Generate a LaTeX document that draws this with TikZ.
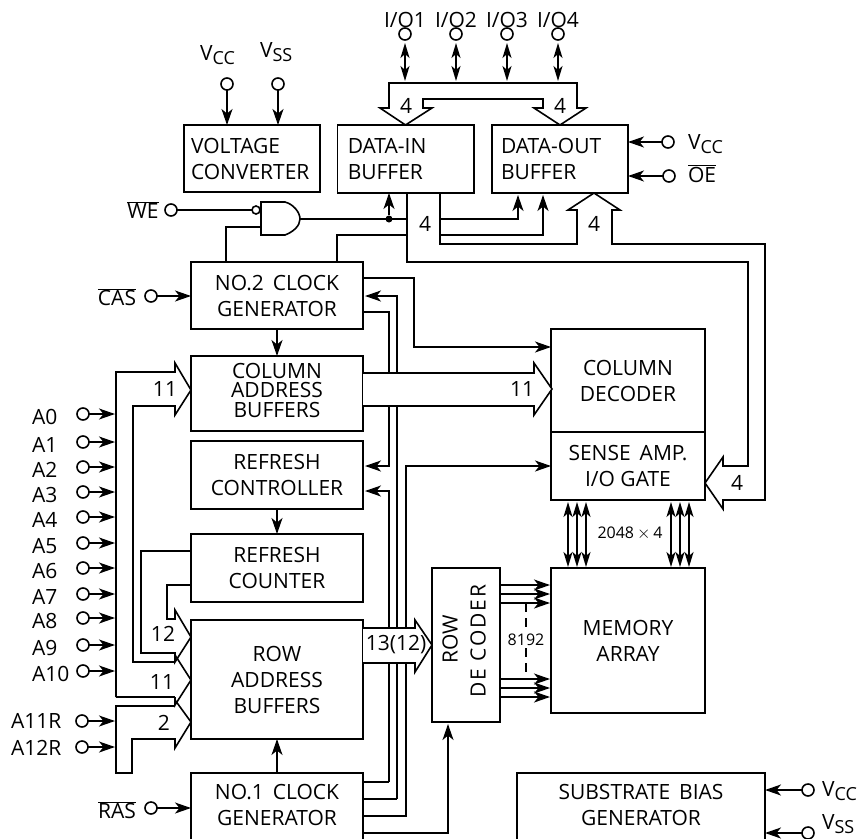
\documentclass[tikz,border=0pt]{standalone}
\usepackage{fontspec}
\setmainfont{Open Sans}
\usetikzlibrary{arrows.meta,calc}
\newcommand\fsA{\fontsize{21}{26}\selectfont}
\newcommand\vlab[1]{V\raisebox{-4pt}{\fontsize{18}{15}\selectfont #1}}
\newcommand\ovl[1]{$\overline{\mbox{#1}}$}
\newcommand\mybox[7]{\node[box,minimum width={#4-#2},minimum height={#5-#3},#6] (#1) at ({(#2+#4)/2},{(#3+#5)/2}) {#7};}
\tikzset{
 box/.style={draw=black,line width=1.6pt,fill=white,inner sep=0pt,outer sep=0pt,align=center,font=\fsA},
 pad/.style={circle,draw=black,line width=1.6pt,fill=white,minimum size=12pt,inner sep=0pt,outer sep=0pt},
 lbl/.style={inner sep=0pt,outer sep=0pt,font=\fsA},
 small/.style={inner sep=0pt,outer sep=0pt,font=\fontsize{16}{18}\selectfont},
 wire/.style={line width=1.6pt,line join=miter},
 arr/.style={wire,-{Stealth[length=16pt,width=11pt,inset=4.5pt]}},
 darr/.style={wire,{Stealth[length=15pt,width=9pt,inset=4pt]}-{Stealth[length=15pt,width=9pt,inset=4pt]}},
 bus/.style={line width=1.6pt,line join=miter,fill=white},
}
\begin{document}
\begin{tikzpicture}[x=1pt,y=-1pt]
\useasboundingbox (0,0) rectangle (861,838);
\clip (0,0) rectangle (861,838);
% boxes
\mybox{vc}{184}{125}{320}{192}{text width=122pt,align=left}{VOLTAGE\\CONVERTER}
\mybox{din}{337.5}{125}{474}{193}{text width=116pt,align=left}{DATA-IN\\BUFFER}
\mybox{dout}{492}{125}{628}{193}{text width=118pt,align=left}{DATA-OUT\\BUFFER}
\mybox{clk2}{191}{262}{363}{329}{}{NO.2\, CLOCK\\GENERATOR}
\mybox{cab}{191}{356}{363}{431}{}{}
\node[lbl,align=center,font=\fontsize{21}{19.5}\selectfont] (cabt) at (277,390) {COLUMN\\ADDRESS\\BUFFERS};
\mybox{rc}{191}{441}{363}{509}{}{REFRESH\\CONTROLLER}
\mybox{rcnt}{191}{534}{363}{602}{}{REFRESH\\COUNTER}
\mybox{rab}{191}{620}{363}{739}{}{ROW\\ADDRESS\\BUFFERS}
\mybox{clk1}{191}{773}{363}{850}{}{}
\node[lbl,align=center] (clk1t) at (277,805) {NO.1\, CLOCK\\GENERATOR};
\mybox{cd}{551}{329}{705}{432}{}{COLUMN\\DECODER}
\mybox{sa}{551}{432}{705}{500}{}{SENSE\, AMP.\\I/O GATE}
\mybox{ma}{551}{568}{705}{713}{}{MEMORY\\ARRAY}
\mybox{rd}{432}{568}{500}{722}{}{}
\node[lbl,rotate=90] (rdA) at (450,639) {ROW};
\node[lbl,rotate=90] (rdB) at (478,641) {\addfontfeature{LetterSpace=9}DE CODER};
\mybox{sb}{517}{773}{765}{850}{}{}
\node[lbl,align=center] (sbt) at (641,805) {SUBSTRATE\, BIAS\\GENERATOR};
% top labels and pads
\foreach \x/\n in {405/1,456/2,507/3,558/4}{
  \node[pad] (io\n) at (\x,34) {};
  \node[lbl] (iol\n) at (\x,20) {I/O\n};
}
\node[lbl,anchor=base west] (lvcc) at (200,60) {\vlab{CC}};
\node[lbl,anchor=base west] (lvss) at (260,57) {\vlab{SS}};
\node[pad] (pvcc) at (227,84) {};
\node[pad] (pvss) at (278,84) {};
\draw[arr] (pvcc) -- (pvcc |- vc.north);
\draw[arr] (pvss) -- (pvss |- vc.north);
% right pads
\node[pad] (pv1) at (668,142) {};
\node[pad] (poe) at (669,176) {};
\node[lbl,anchor=base west] (lv1) at (688,149) {\vlab{CC}};
\node[lbl,anchor=base west] (loe) at (688,182) {\ovl{OE}};
\draw[arr] (pv1) -- (pv1 -| dout.east);
\draw[arr] (poe) -- (poe -| dout.east);
\node[pad] (pv2) at (808,790) {};
\node[pad] (pv3) at (808,833) {};
\node[lbl,anchor=base west] (lv2) at (822,796) {\vlab{CC}};
\node[lbl,anchor=base west] (lv3) at (822,829) {\vlab{SS}};
\draw[arr] (pv2) -- (pv2 -| sb.east);
\draw[arr] (pv3) -- (pv3 -| sb.east);
% I/O double arrows
\coordinate (tb) at (0,81);
\foreach \n in {1,2,3,4}{
  \draw[darr] (io\n.south) ++(0,3) -- (io\n |- tb);
}
% gate
\node[pad,minimum size=8pt] (bub) at (256,210) {};
\node[inner sep=0pt] (gateout) at (300,219) {};
\coordinate (gA) at (261,202);
\coordinate (gB) at (261,235);
\draw[bus] (gA) -- (285,202) .. controls (293,204) and (300,212) .. (gateout.center) .. controls (300,226) and (293,232) .. (285,235) -- (gB) -- cycle;
\node[pad] (pwe) at (171,210) {};
\node[lbl] (lwe) at (143,210) {\ovl{WE}};
\draw[wire] (pwe) -- (bub);
\coordinate (gIn) at (261,227);
\draw[wire] (gIn) -| (226,262);
\coordinate (dinT) at (407,219);
\draw[wire] (gateout.center) -- (dinT);
\node[circle,fill=black,minimum size=7pt,inner sep=0pt] (jdot) at (389,219) {};
\draw[arr] (jdot) -- (jdot |- din.south);
\coordinate (clkT) at (337,262);
\draw[wire] (clkT) |- (407,235);
% data wires
\draw[arr] (440,219) -| (518,195);
\draw[arr] (440,235) -| (543,195);
% clock 2
\node[pad] (pcas) at (151,296) {};
\node[lbl] (lcas) at (117,297) {\ovl{CAS}};
\draw[arr] (pcas) -- (pcas -| clk2.west);
\draw[arr] (clk2.south) -- (cab.north);
\draw[arr] (rc.south) -- (rcnt.north);
\draw[arr] (clk1.north) -- (rab.south);
\draw[arr] (363,278) -- (414,278) |- (551,347);
% control wires
\draw[arr] (397,799) -- (397,296) -- (365,296);
\draw[arr] (363,312) -- (389,312) |- (365,466);
\draw[arr] (389,782) -- (389,491) -- (365,491);
\draw[wire] (363,782) -- (389,782);
\draw[wire] (363,799) -- (397,799);
\draw[arr] (363,816) -- (406,816) |- (551,466);
\draw[arr] (363,833) -| (448,724);
% sense to memory arrows
\foreach \x in {568,577,586,671,680,689}{
  \draw[darr] (\x,502) -- (\x,567);
}
\node[small] (l2048) at (630,533) {2048$\,\times\,$4};
% row decoder to memory
\foreach \y in {585,594,603,679,688,697}{
  \draw[arr] (500,\y) -- (550,\y);
}
\draw[wire,dash pattern=on 9pt off 6pt] (526,603) -- (526,679);
\node[small,fill=white,inner xsep=1pt,inner ysep=2pt] (l8192) at (526,640) {8192};
% wide buses
\draw[bus] (389,83) -- (577,83) -- (577,108) -- (586,108) -- (560,125) -- (534,108) -- (543,108) -- (543,99) -- (423,99) -- (423,108) -- (432,108) -- (405.5,125) -- (380,108) -- (389,108) -- cycle;
\node[lbl] (n4a) at (406,106) {4};
\node[lbl] (n4b) at (560,106) {4};
% data in/out long buses
\draw[wire] (407,193) -- (407,262) -- (748,262) -- (748,466) -- (723,466) -- (723,457) -- (705,483) -- (723,509) -- (723,500) -- (765,500) -- (765,244) -- (612,244) -- (612,210) -- (620,210) -- (594,193) -- (568,210) -- (577,210) -- (577,244) -- (440,244) -- (440,193);
\node[lbl] (n4c) at (425,224) {4};
\node[lbl] (n4d) at (594,224) {4};
\node[lbl] (n4e) at (737,483) {4};
% column bus
\draw[bus] (363,373) -- (534,373) -- (534,363) -- (552,389) -- (534,415) -- (534,406) -- (363,406);
\node[lbl] (n11a) at (522,389) {11};
% row bus
\draw[bus] (363,628) -- (415,628) -- (415,620) -- (432,645) -- (415,672) -- (415,663) -- (363,663);
\node[lbl] (n13) at (396,645) {13(12)};
% address pads
\foreach \i/\y in {0/414,1/442,2/467,3/492,4/517,5/543,6/568,7/594,8/618,9/645,10/671}{
  \node[pad] (pa\i) at (83,\y) {};
  \node[lbl,anchor=west] (la\i) at (32,\y+3) {A\i};
  \draw[arr] (pa\i) -- (115,\y);
}
\node[pad] (pa11) at (82,721) {};
\node[pad] (pa12) at (82,747) {};
\node[lbl,anchor=west] (la11) at (11,721) {A11R};
\node[lbl,anchor=west] (la12) at (11,748) {A12R};
\draw[arr] (pa11) -- (115,721);
\draw[arr] (pa12) -- (115,747);
% ras
\node[pad] (pras) at (151,808) {};
\node[lbl] (lras) at (117,810) {\ovl{RAS}};
\draw[arr] (pras) -- (pras -| clk1.west);
% address buses
\draw[wire] (116,697) -- (116,372) -- (175,372) -- (175,363) -- (191,390) -- (175,415) -- (175,406) -- (133,406) -- (133,662) -- (175,662);
\draw[wire] (175,697) -- (116,697);
\draw[wire] (175,655) -- (191,680) -- (175,705) -- (175,697);
\draw[wire] (rcnt.west |- 0,585) -- (167,585) -- (167,619) -- (175,619) -- (175,610) -- (191,637) -- (175,662) -- (175,653) -- (141,653) -- (141,551) -- (rcnt.west |- 0,551);
\draw[wire] (175,700) -- (191,722) -- (175,748) -- (175,739) -- (132,739) -- (132,773) -- (116,773) -- (116,706) -- (175,706);
\node[lbl] (n11b) at (165,389) {11};
\node[lbl] (n12) at (163,634) {12};
\node[lbl] (n11c) at (162,682) {11};
\node[lbl] (n2) at (164,723) {2};
\end{tikzpicture}
\end{document}
